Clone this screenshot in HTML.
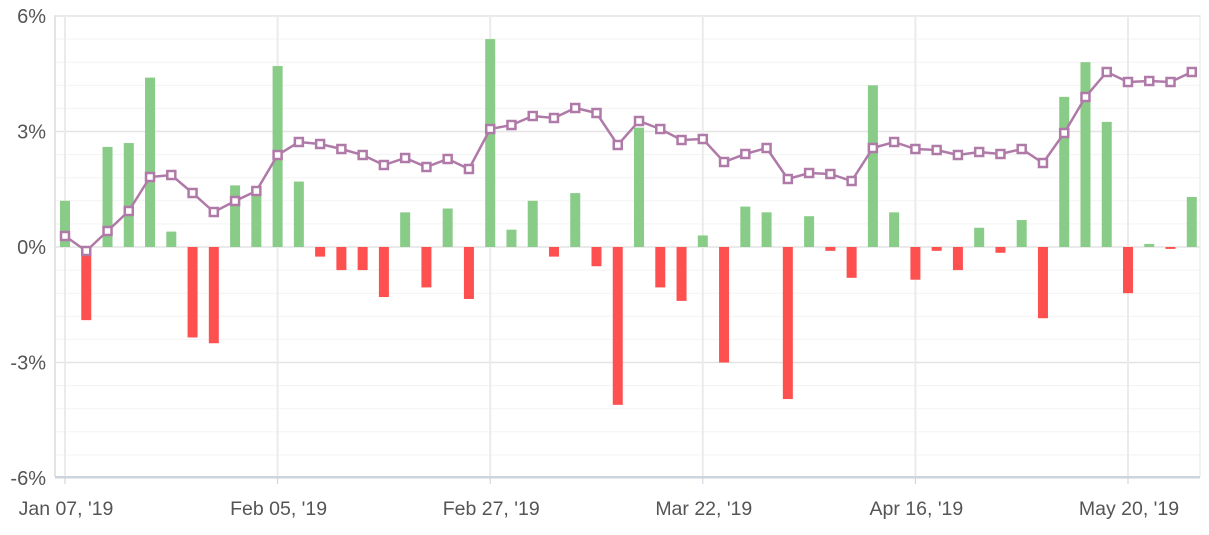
<!DOCTYPE html><html><head><style>body{margin:0;background:#fff}svg{display:block}</style></head><body>
<svg id="c" width="1209" height="535" xmlns="http://www.w3.org/2000/svg" font-family="Liberation Sans, sans-serif"></svg>
<script>
const bars=[1.2,-1.9,2.6,2.7,4.4,0.4,-2.35,-2.5,1.6,1.4,4.7,1.7,-0.25,-0.6,-0.6,-1.3,0.9,-1.05,1.0,-1.35,5.4,0.45,1.2,-0.25,1.4,-0.5,-4.1,3.1,-1.05,-1.4,0.3,-3.0,1.05,0.9,-3.95,0.8,-0.1,-0.8,4.2,0.9,-0.85,-0.1,-0.6,0.5,-0.15,0.7,-1.85,3.9,4.8,3.25,-1.2,0.08,-0.05,1.3];
const ly=[236,251,231,211,177,175,193,212,201,191,155,142,144,149,155,165,158,167,159,169,129,125,116,118,108,113,145,121,129,140,139,162,154,148,179,173,174,181,148,142,149,150,155,152,154,149,163,133,97,72,82,81,82,72];
const X=i=>65+i*21.26, Y=v=>247-v*38.5;
let s='';
for(let v=-6;v<=6.001;v+=0.6){const y=Y(v);const maj=Math.abs(v%3)<0.01||Math.abs(Math.abs(v%3)-3)<0.01;s+=`<line x1="55" x2="1200" y1="${y}" y2="${y}" stroke="${maj?'#e4e4e4':'#f3f3f3'}" stroke-width="${maj?1.5:1}"/>`;}
const labs=["Jan 07, '19","Feb 05, '19","Feb 27, '19","Mar 22, '19","Apr 16, '19","May 20, '19"];
labs.forEach((l,k)=>{const x=X(k*10);s+=`<line x1="${x}" x2="${x}" y1="15" y2="477" stroke="#ebebeb" stroke-width="2"/><line x1="${x}" x2="${x}" y1="477" y2="484" stroke="#ccd" /><text x="${x+1}" y="515" font-size="19.5" fill="#555" text-anchor="middle">${l}</text>`;});
s+=`<line x1="1200" x2="1200" y1="15" y2="477" stroke="#e4e4e4"/><line x1="55" x2="55" y1="15" y2="477" stroke="#e4e4e4" stroke-width="2"/><line x1="55" x2="1200" y1="477" y2="477" stroke="#ccd3e0" stroke-width="2"/>`;
[["6%",6],["3%",3],["0%",0],["-3%",-3],["-6%",-6]].forEach(([t,v])=>{s+=`<text x="46" y="${Y(v)+7}" font-size="20" fill="#555" text-anchor="end">${t}</text>`;});
bars.forEach((v,i)=>{const x=X(i)-5,y=v>0?Y(v):247,h=Math.abs(v)*38.5;s+=`<rect x="${x}" y="${y}" width="10" height="${h}" fill="${v>0?'#88cc88':'#ff5050'}"/>`;});
s+=`<polyline fill="none" stroke="#b07aa8" stroke-width="2.5" points="${ly.map((y,i)=>X(i)+','+y).join(' ')}"/>`;
ly.forEach((y,i)=>{s+=`<rect x="${X(i)-4}" y="${y-4}" width="8" height="8" fill="#fff" stroke="#b07aa8" stroke-width="2.5"/>`;});
document.getElementById('c').innerHTML=s;
</script></body></html>
